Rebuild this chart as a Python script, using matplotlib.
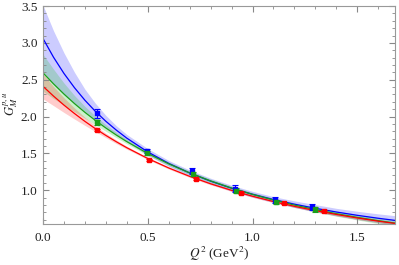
import matplotlib
matplotlib.use("Agg")
import matplotlib.pyplot as plt
from matplotlib.ticker import MultipleLocator

plt.rcParams['font.family'] = ['Liberation Serif', 'DejaVu Serif']
plt.rcParams['mathtext.fontset'] = 'stix'

# fit curves
q_grid = [0.0, 0.05, 0.1, 0.15, 0.2, 0.25, 0.3, 0.35, 0.4, 0.5, 0.6, 0.7, 0.8,
          0.9, 1.0, 1.1, 1.2, 1.3, 1.4, 1.5, 1.6, 1.7]
blue_fit = [3.06, 2.806, 2.585, 2.392, 2.221, 2.070, 1.935, 1.815, 1.706, 1.519,
            1.363, 1.233, 1.122, 1.026, 0.944, 0.872, 0.809, 0.753, 0.703, 0.658,
            0.618, 0.582]
blue_err = [0.45, 0.36, 0.28, 0.21, 0.15, 0.11, 0.08, 0.06, 0.05, 0.045, 0.04,
            0.04, 0.04, 0.04, 0.04, 0.04, 0.045, 0.05, 0.05, 0.055, 0.06, 0.065]
green_fit = [2.594, 2.444, 2.305, 2.176, 2.057, 1.947, 1.844, 1.748, 1.659, 1.498,
             1.357, 1.234, 1.125, 1.028, 0.942, 0.866, 0.797, 0.736, 0.680, 0.630,
             0.585, 0.544]
green_err = [0.25, 0.20, 0.15, 0.11, 0.08, 0.06, 0.045, 0.035, 0.03, 0.025, 0.025,
             0.025, 0.025, 0.025, 0.025, 0.025, 0.03, 0.03, 0.035, 0.035, 0.04, 0.04]
red_fit = [2.41, 2.278, 2.155, 2.041, 1.934, 1.835, 1.743, 1.657, 1.576, 1.430,
           1.301, 1.187, 1.086, 0.997, 0.917, 0.845, 0.780, 0.722, 0.670, 0.622,
           0.579, 0.540]
red_err = [0.17, 0.13, 0.10, 0.075, 0.055, 0.04, 0.03, 0.025, 0.02, 0.015, 0.015,
           0.015, 0.015, 0.015, 0.015, 0.015, 0.015, 0.015, 0.02, 0.02, 0.02, 0.02]

# lattice points
blue_q = [0.26, 0.498, 0.711, 0.914, 1.105, 1.284]
blue_g = [2.042, 1.534, 1.265, 1.02, 0.864, 0.773]
blue_e = [0.064, 0.03, 0.04, 0.052, 0.04, 0.04]
green_q = [0.26, 0.498, 0.717, 0.922, 1.11, 1.30]
green_g = [1.92, 1.50, 1.222, 0.995, 0.84, 0.738]
green_e = [0.03, 0.025, 0.03, 0.04, 0.03, 0.03]
red_q = [0.26, 0.505, 0.732, 0.946, 1.152, 1.343]
red_g = [1.815, 1.41, 1.15, 0.963, 0.819, 0.715]
red_e = [0.01, 0.01, 0.01, 0.01, 0.01, 0.01]

fig = plt.figure(figsize=(3.99, 2.65), dpi=100)
ax = fig.add_axes([0.1078, 0.1547, 0.8822, 0.8223])

series = [
    (blue_fit, blue_err, blue_q, blue_g, blue_e, '#0000ff', '#0000ff'),
    (green_fit, green_err, green_q, green_g, green_e, '#1a9e1a', '#00c000'),
    (red_fit, red_err, red_q, red_g, red_e, '#ff0000', '#ff0000'),
]

for fit, err, pq, pg, pe, col, band in series:
    lo = [f - e for f, e in zip(fit, err)]
    hi = [f + e for f, e in zip(fit, err)]
    ax.fill_between(q_grid, lo, hi, color=band, alpha=0.2, lw=0)

for fit, err, pq, pg, pe, col, band in series:
    ax.plot(q_grid, fit, color=col, lw=0.9)

for fit, err, pq, pg, pe, col, band in series:
    ax.errorbar(pq, pg, yerr=pe, fmt='s', color=col, ms=3, elinewidth=0.8,
                capsize=2.2, capthick=0.8)

ax.set_xlim(0, 1.68)
ax.set_ylim(0.54, 3.5)
ax.xaxis.set_major_locator(MultipleLocator(0.5))
ax.xaxis.set_minor_locator(MultipleLocator(0.1))
ax.yaxis.set_major_locator(MultipleLocator(0.5))
ax.yaxis.set_minor_locator(MultipleLocator(0.1))
ax.xaxis.set_major_formatter(plt.FuncFormatter(lambda v, p: f"{v:.1f}"))
ax.yaxis.set_major_formatter(plt.FuncFormatter(lambda v, p: f"{v:.1f}"))

ax.tick_params(which='both', direction='in', top=True, right=True,
               color='#888888', labelsize=9.5, labelcolor='#222222')
ax.tick_params(which='major', length=4.5, width=0.8)
ax.tick_params(which='minor', length=2.5, width=0.6)
ax.tick_params(axis='x', pad=6)
ax.tick_params(axis='y', pad=4)
for s in ax.spines.values():
    s.set_color('#999999')
    s.set_linewidth(0.8)

ax.set_xlabel(r'$Q^2$ (GeV$^2$)', fontsize=9.5, color='#222222')
ax.xaxis.set_label_coords(0.5, -0.095)
ax.set_ylabel(r'$G_M^{p,u}$', fontsize=9, color='#222222')
ax.yaxis.set_label_coords(-0.064, 0.55)

fig.savefig('out.png', dpi=100)
